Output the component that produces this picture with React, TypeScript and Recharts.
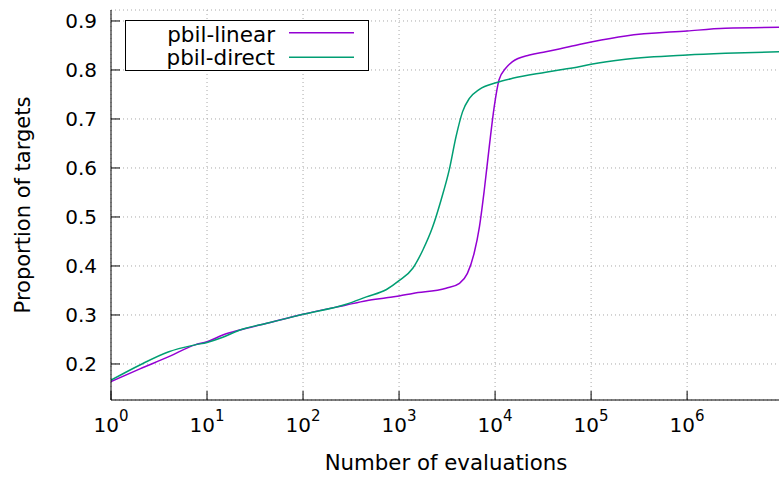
import React from 'react';
import { LineChart, Line, XAxis, YAxis, CartesianGrid, Legend } from 'recharts';

// evaluations (x) and proportion of targets (y)
const linearX = [1, 2, 4, 7.5, 10, 14.6, 22, 42, 100, 282, 457, 740, 1000, 1390, 3090, 4260, 5150, 6050, 6870, 7720, 8700, 9800, 11000, 12900, 15200, 22800, 33700, 46500, 75000, 100000, 229000, 1000000, 2500000, 9500000];
const linearY = [0.164, 0.19, 0.215, 0.239, 0.2455, 0.259, 0.2694, 0.283, 0.3014, 0.3204, 0.329, 0.335, 0.3388, 0.344, 0.3545, 0.3647, 0.385, 0.426, 0.48, 0.555, 0.6435, 0.725, 0.78, 0.8035, 0.817, 0.8306, 0.8374, 0.843, 0.852, 0.857, 0.8694, 0.8796, 0.885, 0.887];

const directX = [1, 2, 4, 7.5, 10, 14.6, 22, 42, 100, 282, 457, 740, 1000, 1390, 1770, 2240, 2740, 3330, 3920, 4590, 5400, 6870, 10200, 15200, 33700, 46500, 75000, 100000, 229000, 1000000, 2500000, 9500000];
const directY = [0.167, 0.198, 0.225, 0.239, 0.244, 0.2545, 0.2694, 0.283, 0.3014, 0.322, 0.337, 0.352, 0.37, 0.3953, 0.4327, 0.48, 0.5347, 0.596, 0.664, 0.715, 0.742, 0.7606, 0.774, 0.783, 0.7953, 0.8, 0.8067, 0.8116, 0.8218, 0.8306, 0.834, 0.8374];

const xMajorTicks = [1, 10, 100, 1000, 10000, 100000, 1000000];
const xMinorTicks = xMajorTicks.flatMap((d) => [2, 3, 4, 5, 6, 7, 8, 9].map((m) => m * d));
const yTicks = [0.2, 0.3, 0.4, 0.5, 0.6, 0.7, 0.8, 0.9];

const X_DOMAIN = [1, 9500000];
const Y_DOMAIN = [0.1265, 0.9224];

const FONT = '"DejaVu Sans", sans-serif';
const PURPLE = '#9400d3';
const GREEN = '#009e73';

const linearData = linearX.map((x, i) => ({ x, y: linearY[i] }));
const directData = directX.map((x, i) => ({ x, y: directY[i] }));

const XTick = ({ x, y, payload }: any) => {
  const exp = Math.round(Math.log10(payload.value));
  return (
    <text x={x} y={y} textAnchor="middle" fontSize={20} fontFamily={FONT} fill="#000">
      <tspan>10</tspan>
      <tspan dy={-11} fontSize={15}>{exp}</tspan>
    </text>
  );
};

const XTitle = ({ viewBox }: any) => (
  <text x={viewBox.x + viewBox.width / 2} y={470} textAnchor="middle" fontSize={21.3} fontFamily={FONT} fill="#000">
    Number of evaluations
  </text>
);

const YTitle = ({ viewBox }: any) => {
  const cy = viewBox.y + viewBox.height / 2;
  return (
    <text x={30} y={cy} transform={`rotate(-90, 30, ${cy})`} textAnchor="middle" fontSize={21} fontFamily={FONT} fill="#000">
      Proportion of targets
    </text>
  );
};

const KeyBox = () => (
  <svg width={244} height={51} style={{ display: 'block' }}>
    <rect x={0.5} y={0.5} width={243} height={50} fill="#fff" stroke="#000" strokeWidth={1} />
    <text x={150} y={22} textAnchor="end" fontSize={21.5} fontFamily={FONT} fill="#000">pbil-linear</text>
    <line x1={164} x2={229} y1={12.7} y2={12.7} stroke={PURPLE} strokeWidth={1.5} />
    <text x={150} y={45} textAnchor="end" fontSize={21.5} fontFamily={FONT} fill="#000">pbil-direct</text>
    <line x1={164} x2={229} y1={37.3} y2={37.3} stroke={GREEN} strokeWidth={1.5} />
  </svg>
);

export default function App() {
  return (
    <div style={{ position: 'absolute', left: 0, top: 0, width: 779, height: 480, overflow: 'hidden', background: '#fff' }}>
      <LineChart width={790} height={480} margin={{ top: 10, right: 9, bottom: 0, left: 0 }}>
        <CartesianGrid stroke="#a8a8a8" strokeDasharray="1 3" xAxisId="main" yAxisId="left" />
        <XAxis
          xAxisId="minor"
          dataKey="x"
          type="number"
          scale="log"
          domain={X_DOMAIN}
          allowDataOverflow
          ticks={xMinorTicks}
          interval={0}
          tick={false}
          tickSize={-4.5}
          tickLine={{ stroke: '#000' }}
          axisLine={false}
          height={0}
        />
        <XAxis
          xAxisId="main"
          dataKey="x"
          type="number"
          scale="log"
          domain={X_DOMAIN}
          allowDataOverflow
          ticks={xMajorTicks}
          interval={0}
          tick={<XTick />}
          tickSize={-9}
          tickMargin={41}
          tickLine={{ stroke: '#000' }}
          axisLine={{ stroke: '#000' }}
          height={80}
          label={XTitle}
        />
        <XAxis
          xAxisId="top"
          orientation="top"
          dataKey="x"
          type="number"
          scale="log"
          domain={X_DOMAIN}
          allowDataOverflow
          ticks={xMajorTicks}
          interval={0}
          tick={false}
          tickSize={-9}
          tickLine={{ stroke: '#000' }}
          axisLine={{ stroke: '#000' }}
          height={0}
        />
        <XAxis
          xAxisId="topMinor"
          orientation="top"
          dataKey="x"
          type="number"
          scale="log"
          domain={X_DOMAIN}
          allowDataOverflow
          ticks={xMinorTicks}
          interval={0}
          tick={false}
          tickSize={-4.5}
          tickLine={{ stroke: '#000' }}
          axisLine={false}
          height={0}
        />
        <YAxis
          yAxisId="left"
          type="number"
          domain={Y_DOMAIN}
          allowDataOverflow
          ticks={yTicks}
          interval={0}
          width={111}
          tickSize={-9}
          tickMargin={23}
          tick={{ fontSize: 20, fill: '#000', fontFamily: FONT }}
          tickFormatter={(v: number) => v.toFixed(1)}
          tickLine={{ stroke: '#000' }}
          axisLine={{ stroke: '#000' }}
          label={YTitle}
        />
        <YAxis
          yAxisId="right"
          orientation="right"
          type="number"
          domain={Y_DOMAIN}
          allowDataOverflow
          ticks={yTicks}
          interval={0}
          width={0}
          tick={false}
          tickSize={-9}
          tickLine={{ stroke: '#000' }}
          axisLine={{ stroke: '#000' }}
        />
        <Legend
          layout="vertical"
          align="center"
          verticalAlign="middle"
          content={<KeyBox />}
          wrapperStyle={{ left: 125, top: 20, width: 244, height: 51, bottom: 'auto', right: 'auto' }}
        />
        <Line
          data={linearData}
          dataKey="y"
          xAxisId="main"
          yAxisId="left"
          type="monotoneX"
          stroke={PURPLE}
          strokeWidth={1.5}
          dot={false}
          isAnimationActive={false}
          name="pbil-linear"
        />
        <Line
          data={directData}
          dataKey="y"
          xAxisId="main"
          yAxisId="left"
          type="monotoneX"
          stroke={GREEN}
          strokeWidth={1.5}
          dot={false}
          isAnimationActive={false}
          name="pbil-direct"
        />
      </LineChart>
    </div>
  );
}
